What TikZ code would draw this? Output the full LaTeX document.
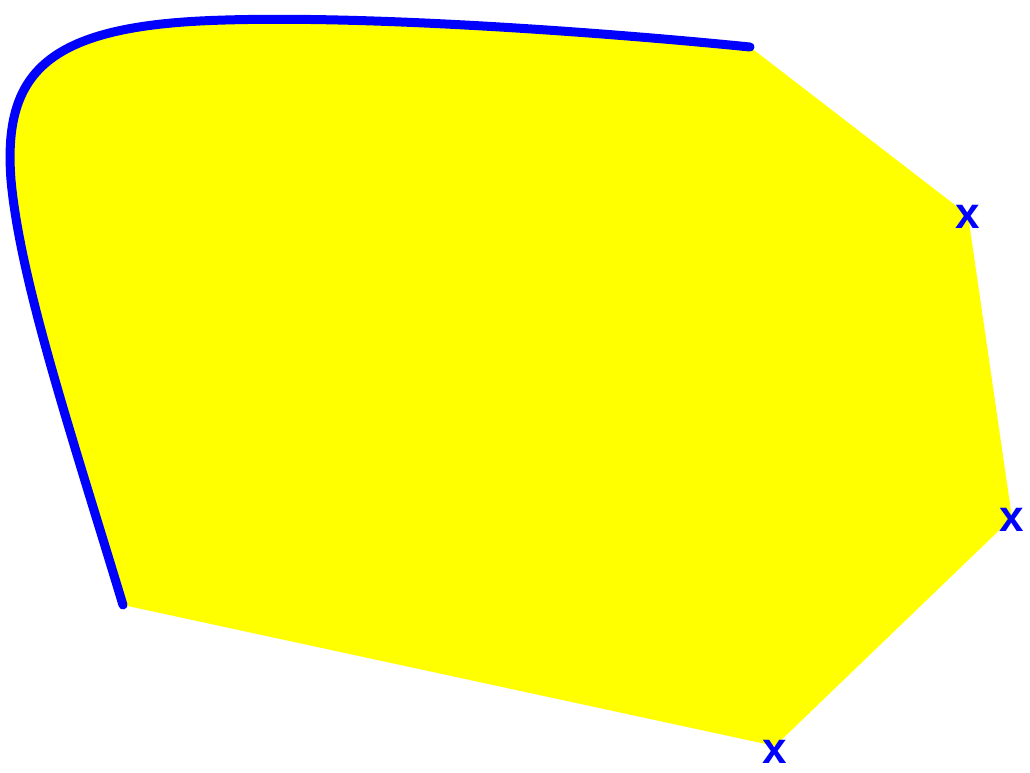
\documentclass[tikz,border=0pt]{standalone}
\usepackage{fontspec}
\setmainfont{Liberation Sans}
\definecolor{fillyellow}{RGB}{255,255,0}
\definecolor{lineblue}{RGB}{0,0,255}
\tikzset{
  region/.style={fill=fillyellow},
  boundary/.style={draw=lineblue, line width=9pt, line cap=round, line join=round},
  xmark/.style={text=lineblue, font=\fontsize{44}{44}\selectfont\bfseries, inner sep=0pt}
}
\begin{document}
\begin{tikzpicture}[x=1pt,y=-1pt]
\useasboundingbox (0,0) rectangle (1030,773);
\coordinate (s) at (123,605);
\coordinate (m1) at (11,180);
\coordinate (m2) at (200,21);
\coordinate (e) at (750,47);
\coordinate (v1) at (968,215);
\coordinate (v2) at (1012,518);
\coordinate (v3) at (775,746);
\fill[region] (s) .. controls (70,430) and (20,280) .. (m1)
  .. controls (3,75) and (45,29) .. (m2)
  .. controls (350,13.5) and (600,32) .. (e)
  -- (v1) -- (v2) -- (v3) -- cycle;
\draw[boundary] (s) .. controls (70,430) and (20,280) .. (m1)
  .. controls (3,75) and (45,29) .. (m2)
  .. controls (350,13.5) and (600,32) .. (e);
\node[xmark] (x1) at ([yshift=-2pt]v1) {x};
\node[xmark] (x2) at ([yshift=-2pt]v2) {x};
\node[xmark] (x3) at ([yshift=-6pt]v3) {x};
\end{tikzpicture}
\end{document}
